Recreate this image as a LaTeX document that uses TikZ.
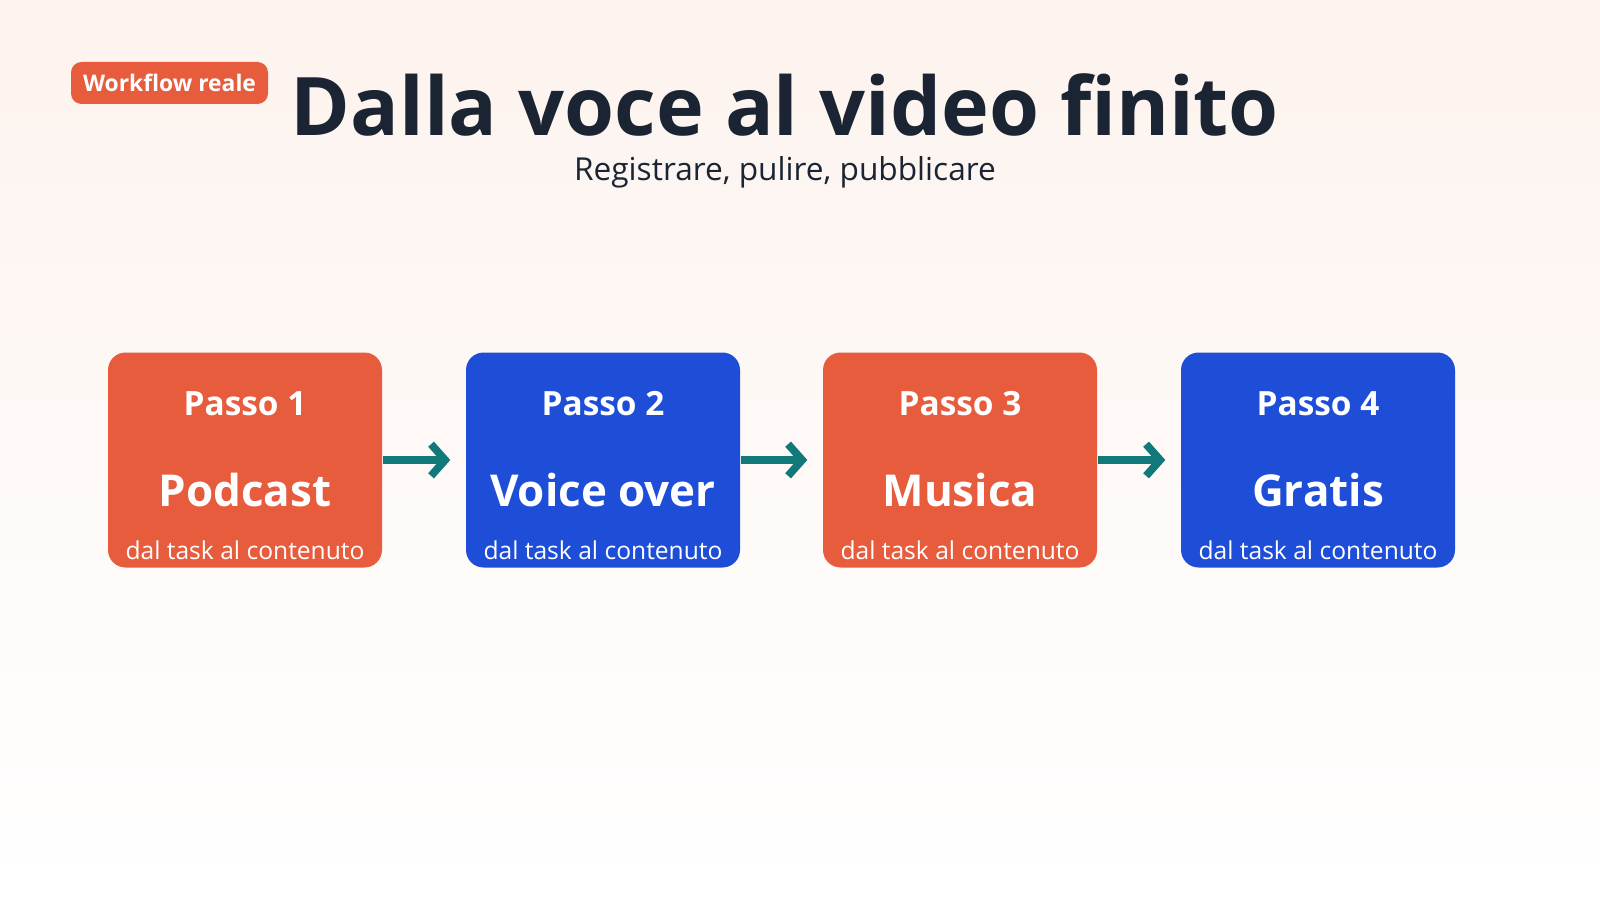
\documentclass[tikz,border=0pt]{standalone}
\usepackage{fontspec}
\setmainfont{Open Sans}
\usetikzlibrary{positioning, arrows.meta}
\definecolor{coral}{HTML}{E65C3C}
\definecolor{royal}{HTML}{1E4ED8}
\definecolor{teal}{HTML}{11797A}
\definecolor{ink}{HTML}{1B2433}
\definecolor{peach}{HTML}{FDF3EE}
\begin{document}
\begin{tikzpicture}

% Define styles
\tikzstyle{stepbox}=[rounded corners=5pt, minimum width=2.74cm, minimum height=2.15cm, inner sep=0pt]
\tikzstyle{link}=[teal, line width=2.2pt, -{Straight Barb[length=4pt, width=9pt, line width=2.2pt]}]
\tikzstyle{label}=[text=white]

% Background
\shade[top color=peach, bottom color=white] (0,0) rectangle (16,9);
\useasboundingbox (0,0) rectangle (16,9);

% Header
\node[fill=coral, rounded corners=3pt, minimum width=1.97cm, minimum height=0.42cm, text=white, font=\fontsize{6.5}{8}\selectfont\bfseries] (badge) at (1.695,8.17) {Workflow reale};
\node[text=ink, font=\fontsize{23}{26}\selectfont\bfseries] (title) at (7.85,7.95) {Dalla voce al video finito};
\node[text=ink, font=\fontsize{9}{11}\selectfont, below=-0.05cm of title] (subtitle) {Registrare, pulire, pubblicare};

% Steps
\foreach \x/\c/\n/\name in {2.45/coral/1/Podcast, 6.03/royal/2/Voice over, 9.60/coral/3/Musica, 13.18/royal/4/Gratis} {
  \node[stepbox, fill=\c] (s\n) at (\x,4.4) {};
  \node[label, font=\fontsize{9.5}{11}\selectfont\bfseries] (p\n) at (\x,4.96) {Passo \n};
  \node[label, font=\fontsize{12.5}{14}\selectfont\bfseries] (n\n) at (\x,4.1) {\name};
  \node[label, font=\fontsize{7}{9}\selectfont] (d\n) at (\x,3.5) {dal task al contenuto};
}

% Arrows
\foreach \a/\b in {1/2, 2/3, 3/4} {
  \draw[link] (s\a.east) -- ([xshift=-0.15cm]s\b.west);
}

\end{tikzpicture}
\end{document}
